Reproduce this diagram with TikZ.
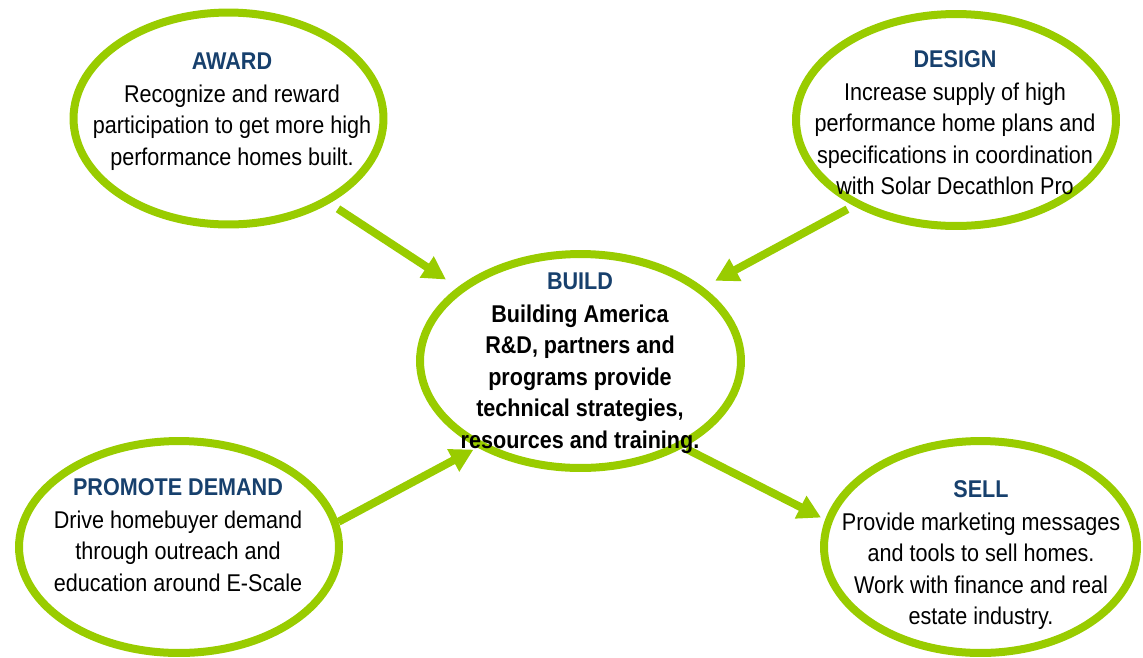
\documentclass[tikz,border=0pt]{standalone}
\usepackage{fontspec}
\setmainfont{Liberation Sans}[FakeStretch=0.89]
\usetikzlibrary{shapes.geometric,arrows.meta}
\definecolor{ringgreen}{HTML}{99CC00}
\definecolor{titleblue}{HTML}{17406D}
\newcommand{\bubbletitle}[1]{{\color{titleblue}\bfseries #1}}
\begin{document}
\begin{tikzpicture}[x=0.02cm,y=-0.02cm,
  bubble/.style={ellipse, draw=ringgreen, line width=0.16cm, fill=none,
    minimum width=6.3cm, minimum height=4.24cm, inner sep=0pt},
  bubbletext/.style={align=center, inner sep=0pt, anchor=north, text=black,
    font=\fontsize{13.8pt}{17.9pt}\selectfont},
  conn/.style={draw=ringgreen, line width=0.16cm,
    -{Triangle[length=0.46cm,width=0.48cm]}}]
\useasboundingbox (0,0) rectangle (1143,657);

% the five rings
\node[bubble, minimum width=6.2cm] (award) at (228.5,118.5) {};
\node[bubble, minimum width=6.4cm] (design) at (956,120) {};
\node[bubble, minimum width=6.42cm, minimum height=4.28cm] (build) at (580.5,361) {};
\node[bubble, minimum width=6.4cm] (promote) at (179,547) {};
\node[bubble, minimum width=6.26cm] (sell) at (980.5,547) {};

% flows into and out of BUILD
\draw[conn, shorten <=0.2cm, shorten >=0.28cm] (award.-40) -- (build.149);
\draw[conn, shorten <=0.14cm, shorten >=0.27cm] (design.-140) -- (build.31);
\draw[conn, shorten <=0cm, shorten >=0.09cm] (promote.9.5) -- (build.-140);
\draw[conn, shorten <=0.06cm, shorten >=0.09cm] (build.-40) -- (sell.170.5);

% texts
\node[bubbletext] (award-text) at (232,52) {\bubbletitle{AWARD}\\[1pt]
  Recognize and reward\\participation to get more high\\performance homes built.};
\node[bubbletext] (design-text) at (955,50) {\bubbletitle{DESIGN}\\[1pt]
  Increase supply of high\\performance home plans and\\specifications in coordination\\with Solar Decathlon Pro};
\node[bubbletext] (build-text) at (580,272) {\bubbletitle{BUILD}\\[1pt]
  \bfseries Building America\\\bfseries R\&D, partners and\\\bfseries programs provide\\\bfseries technical strategies,\\\bfseries resources and training.};
\node[bubbletext] (promote-text) at (178,478) {\bubbletitle{PROMOTE DEMAND}\\[1pt]
  Drive homebuyer demand\\through outreach and\\education around E-Scale};
\node[bubbletext] (sell-text) at (981,480) {\bubbletitle{SELL}\\[1pt]
  Provide marketing messages\\and tools to sell homes.\\Work with finance and real\\estate industry.};
\end{tikzpicture}
\end{document}
